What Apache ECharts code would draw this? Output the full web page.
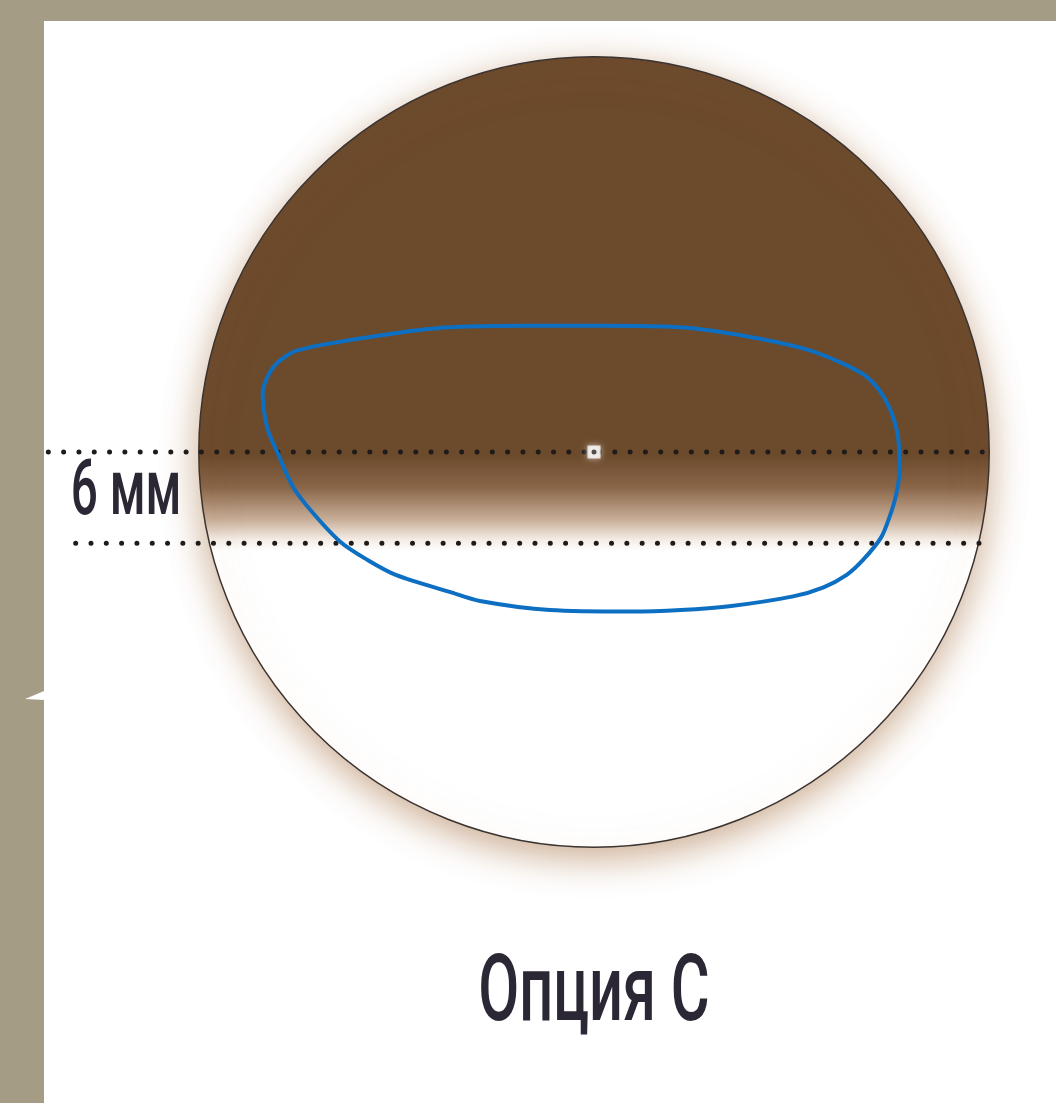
<!DOCTYPE html>
<html>
<head>
<meta charset="utf-8">
<script src="https://cdn.jsdelivr.net/npm/echarts@6/dist/echarts.min.js"></script>
<style>
html,body{margin:0;padding:0;background:#A59C86;}
#chart{width:1056px;height:1103px;}
</style>
</head>
<body>
<div id="chart"></div>
<script>
// ---- data (millimetres, lens centre = 0,0, y up) ----
const lensCenter = [[0, 0]];
const lensRadiusMm = 26;
const guideY = [0, -6];
const guideXStart = [-35.9, -34.1];
const guideXEnd = [25.9, 26.2];
const contourX = [-19.8,-18.2,-13.2,-9.5,-4.2,0.4,5.7,10.1,13.8,16.2,18.0,19.3,20.0,20.1,19.9,19.5,18.9,17.7,16.6,15.1,13.1,8.9,5.7,2.4,-2.9,-7.5,-9.5,-13.0,-14.9,-16.7,-18.5,-19.8,-20.8,-21.5,-21.8,-21.4,-20.8,-19.8];
const contourY = [6.6,7.0,7.8,8.2,8.3,8.3,8.2,7.6,6.8,5.9,4.9,3.2,1.0,-1.2,-2.7,-4.1,-5.6,-7.1,-8.1,-8.9,-9.5,-10.15,-10.4,-10.5,-10.4,-9.8,-9.2,-8.1,-7.1,-5.9,-4.0,-2.3,-0.1,1.6,3.9,5.1,5.9,6.6];
const zoneLabel = '6 мм';
const titleText = 'Опция С';

// ---- layout ----
const W = 1056, H = 1103;
const PX = 15.2;           // px per mm
const CX = 594, CY = 452;  // lens centre in px

const chart = echarts.init(document.getElementById('chart'), null, {renderer: 'canvas'});

const contour = contourX.map((x, i) => [x, contourY[i]]);

const guideSeries = guideY.map((y, i) => ({
  type: 'line',
  data: [[guideXStart[i], y], [guideXEnd[i], y]],
  symbol: 'none',
  silent: true,
  z: 4,
  lineStyle: {color: '#1f1b1a', width: 5, type: [0.01, 15.3], cap: 'round'}
}));

const option = {
  animation: false,
  backgroundColor: '#A59C86',
  grid: {left: 0, right: 0, top: 0, bottom: 0, containLabel: false},
  xAxis: {type: 'value', min: -CX / PX, max: (W - CX) / PX, show: false},
  yAxis: {type: 'value', min: -(H - CY) / PX, max: CY / PX, show: false},
  graphic: [
    {type: 'rect', z: -10, shape: {x: 44, y: 21, width: W - 44, height: H - 21}, style: {fill: '#ffffff'}},
    {type: 'polygon', z: -10, shape: {points: [[25, 699], [44, 691], [44, 700]]}, style: {fill: '#ffffff'}},
    {type: 'text', z: 10, x: 126, y: 495, scaleX: 0.62,
      style: {text: zoneLabel, font: '500 77px Roboto', fill: '#2B2734', align: 'center', verticalAlign: 'middle', textAlign: 'center', textVerticalAlign: 'middle'}},
    {type: 'text', z: 10, x: 594, y: 997, scaleX: 0.64,
      style: {text: titleText, font: '500 93px Roboto', fill: '#2B2734', align: 'center', verticalAlign: 'middle', textAlign: 'center', textVerticalAlign: 'middle'}}
  ],
  series: [
    {
      type: 'custom',
      data: lensCenter,
      z: 1,
      silent: true,
      renderItem: function (params, api) {
        const c = api.coord([api.value(0), api.value(1)]);
        const r = api.size([lensRadiusMm, 0])[0];
        return {
          type: 'circle',
          shape: {cx: c[0], cy: c[1], r: r},
          style: {
            fill: new echarts.graphic.LinearGradient(0, 0, 0, 1, [
              {offset: 0, color: '#6C4A2C'},
              {offset: 0.505, color: '#6C4A2C'},
              {offset: 0.545, color: '#8A6649'},
              {offset: 0.585, color: '#C7AD97'},
              {offset: 0.61, color: '#F3EBE3'},
              {offset: 0.625, color: '#FFFFFF'},
              {offset: 1, color: '#FFFFFF'}
            ]),
            stroke: '#3b3330',
            lineWidth: 1.5,
            shadowBlur: 36,
            shadowColor: 'rgba(160,105,55,0.55)',
            shadowOffsetY: 10
          }
        };
      }
    },
    ...guideSeries,
    {
      type: 'line',
      data: contour,
      smooth: 0.3,
      symbol: 'none',
      silent: true,
      z: 5,
      lineStyle: {color: '#0D6FC2', width: 4}
    },
    {
      type: 'scatter',
      data: lensCenter,
      symbol: 'rect',
      symbolSize: 13,
      silent: true,
      z: 6,
      itemStyle: {color: '#ffffff', shadowBlur: 6, shadowColor: 'rgba(255,255,255,0.8)'}
    },
    {
      type: 'scatter',
      data: lensCenter,
      symbol: 'circle',
      symbolSize: 5,
      silent: true,
      z: 7,
      itemStyle: {color: '#2a2220'}
    }
  ]
};
chart.setOption(option);
</script>
</body>
</html>
